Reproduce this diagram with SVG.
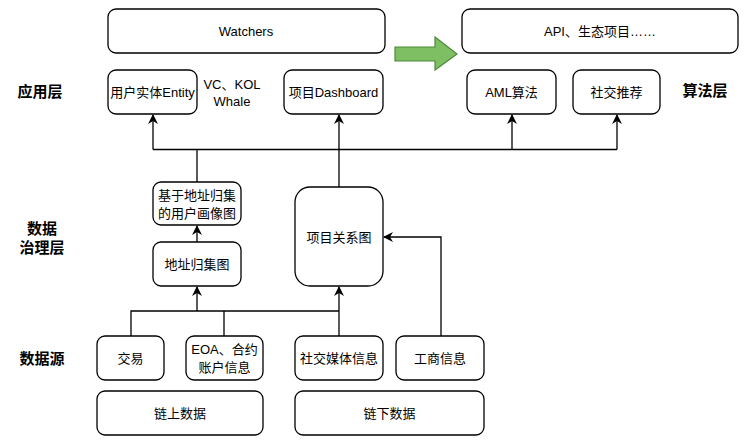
<svg xmlns="http://www.w3.org/2000/svg" width="748" height="445" viewBox="0 0 748 445">
<style>
.box{fill:#fff;stroke:#000;stroke-width:1.3}
.t{font-family:"Liberation Sans","Noto Sans CJK SC",sans-serif;font-size:13px;fill:#000;text-anchor:middle;dominant-baseline:central}
.lbl{font-family:"Liberation Sans","Noto Sans CJK SC",sans-serif;font-size:15px;fill:#000;text-anchor:middle;dominant-baseline:central;font-weight:bold}
.c{fill:none;stroke:#000;stroke-width:1.3}
</style>
<defs>
<marker id="ah" viewBox="0 0 10 10" refX="9" refY="5" markerWidth="10" markerHeight="10" markerUnits="userSpaceOnUse" orient="auto">
<path d="M0,0 L10,5 L0,10 L3,5 Z" fill="#000"/>
</marker>
</defs>
<rect width="748" height="445" fill="#fff"/>
<g id="layer-labels">
<text class="lbl" x="40" y="91">应用层</text>
<text class="lbl" x="42" y="228">数据</text>
<text class="lbl" x="42" y="247">治理层</text>
<text class="lbl" x="42" y="358">数据源</text>
<text class="lbl" x="705" y="90">算法层</text>
</g>
<g id="watchers"><rect class="box" x="108" y="9" width="277" height="44" rx="8"/><text class="t" x="246" y="31">Watchers</text></g>
<g id="api"><rect class="box" x="462" y="9" width="276" height="44" rx="8"/><text class="t" x="600" y="31">API、生态项目……</text></g>
<g id="green-arrow"><path d="M395,47 L435,47 L435,37 L457,54 L435,70 L435,61 L395,61 Z" fill="#7dbf62" stroke="#4e8a3a" stroke-width="1.2"/></g>
<g id="entity"><rect class="box" x="108" y="70" width="89" height="44" rx="8"/><text class="t" x="152.5" y="92">用户实体Entity</text></g>
<g id="vc-label"><text class="t" x="232" y="84">VC、KOL</text><text class="t" x="232" y="101">Whale</text></g>
<g id="dashboard"><rect class="box" x="284" y="70" width="99" height="44" rx="8"/><text class="t" x="333.5" y="92">项目Dashboard</text></g>
<g id="aml"><rect class="box" x="467" y="70" width="89" height="44" rx="8"/><text class="t" x="511.5" y="92">AML算法</text></g>
<g id="social-rec"><rect class="box" x="573" y="70" width="87" height="44" rx="8"/><text class="t" x="616.5" y="92">社交推荐</text></g>
<g id="profile"><rect class="box" x="153" y="182" width="88" height="43" rx="8"/><text class="t" x="197" y="195">基于地址归集</text><text class="t" x="197" y="213">的用户画像图</text></g>
<g id="addr-graph"><rect class="box" x="153" y="242" width="88" height="44" rx="8"/><text class="t" x="197" y="264">地址归集图</text></g>
<g id="project-graph"><rect class="box" x="295" y="187" width="88" height="99" rx="15"/><text class="t" x="339" y="237">项目关系图</text></g>
<g id="tx"><rect class="box" x="97" y="336" width="67" height="44" rx="8"/><text class="t" x="130.5" y="358">交易</text></g>
<g id="eoa"><rect class="box" x="186" y="336" width="77" height="44" rx="8"/><text class="t" x="224.5" y="349">EOA、合约</text><text class="t" x="224.5" y="367">账户信息</text></g>
<g id="social-media"><rect class="box" x="295" y="336" width="88" height="44" rx="8"/><text class="t" x="339" y="358">社交媒体信息</text></g>
<g id="business"><rect class="box" x="396" y="336" width="88" height="44" rx="8"/><text class="t" x="440" y="358">工商信息</text></g>
<g id="onchain"><rect class="box" x="97" y="391" width="166" height="44" rx="8"/><text class="t" x="180" y="413">链上数据</text></g>
<g id="offchain"><rect class="box" x="295" y="391" width="189" height="44" rx="8"/><text class="t" x="389.5" y="413">链下数据</text></g>
<g id="connectors">
<path class="c" d="M197,182 L197,149.5"/>
<path class="c" d="M339,187 L339,149.5"/>
<path class="c" d="M153,149.5 L617,149.5"/>
<path class="c" d="M153,149.5 L153,115" marker-end="url(#ah)"/>
<path class="c" d="M339,149.5 L339,115" marker-end="url(#ah)"/>
<path class="c" d="M512,149.5 L512,115" marker-end="url(#ah)"/>
<path class="c" d="M617,149.5 L617,115" marker-end="url(#ah)"/>
<path class="c" d="M197,242 L197,226" marker-end="url(#ah)"/>
<path class="c" d="M131,336 L131,311 L339,311"/>
<path class="c" d="M224,336 L224,311"/>
<path class="c" d="M197,311 L197,287" marker-end="url(#ah)"/>
<path class="c" d="M339,336 L339,287" marker-end="url(#ah)"/>
<path class="c" d="M441,336 L441,237 L384,237" marker-end="url(#ah)"/>
</g>
</svg>
